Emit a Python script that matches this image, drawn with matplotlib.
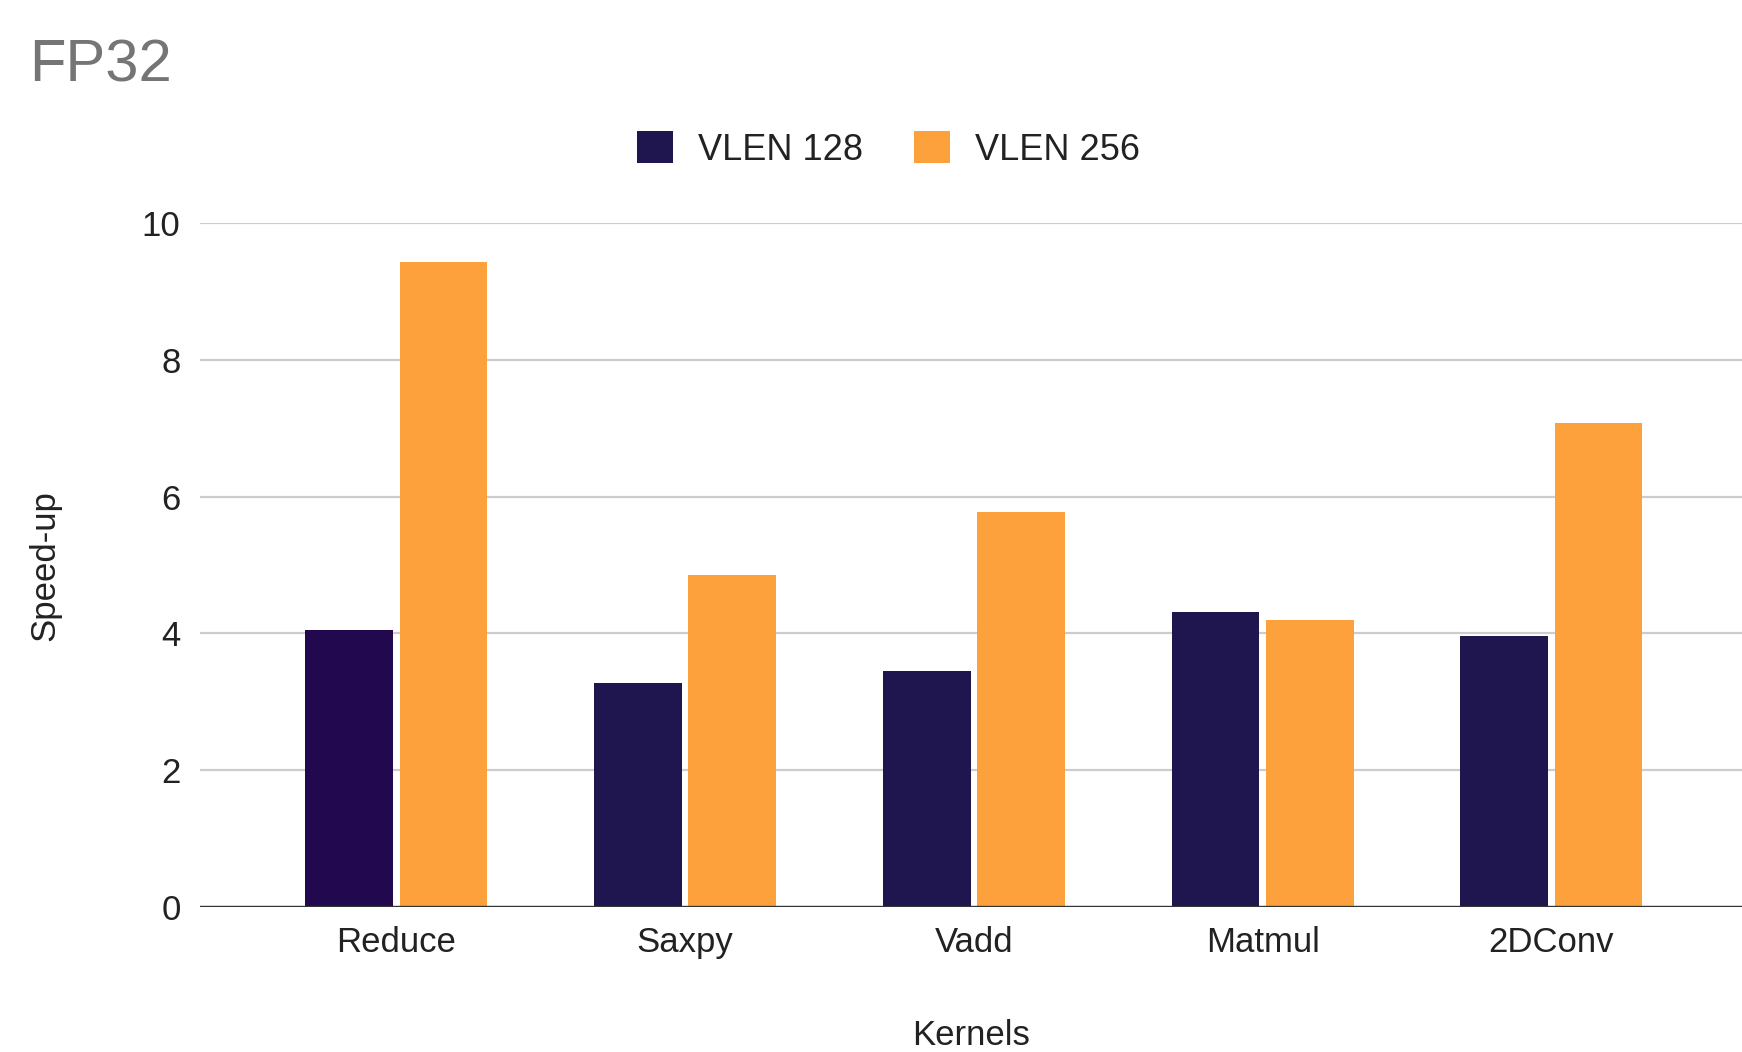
import numpy as np
import matplotlib
matplotlib.use("Agg")
from matplotlib import pyplot as plt
from matplotlib.patches import Patch

plt.rcParams['font.family'] = ['Liberation Sans', 'DejaVu Sans']

# 数据
kernels = ["Reduce", "Saxpy", "Vadd", "Matmul", "2DConv"]
vlen_128 = [4.05, 3.28, 3.45, 4.31, 3.96]
vlen_256 = [9.44, 4.85, 5.78, 4.19, 7.08]
series_names = ["VLEN 128", "VLEN 256"]
y_ticks = [0, 2, 4, 6, 8, 10]

color_128 = ["#22094f", "#1f1650", "#1f1650", "#1f1650", "#1f1650"]
color_256 = "#fca13b"

fig = plt.figure(figsize=(17.42, 10.52), dpi=100)
ax = fig.add_axes([0.1148, 0.138, 0.8852, 0.6497])

x = np.arange(len(kernels))
w = 0.304
off = 0.163
ax.bar(x - off, vlen_128, width=w, color=color_128, zorder=3)
ax.bar(x + off, vlen_256, width=w, color=color_256, zorder=3)

ax.set_xlim(-0.68, 4.66)
ax.set_ylim(0, 10)
ax.set_yticks(y_ticks)
ax.set_xticks(x)
ax.set_xticklabels(kernels)

# 网格和坐标轴
ax.grid(axis='y', color='#cccccc', linewidth=1.6, zorder=0)
ax.axhline(0, color='#333333', linewidth=2.4, zorder=4)
for s in ax.spines.values():
    s.set_visible(False)
ax.tick_params(axis='both', length=0, labelsize=25, colors='#222222')
ax.tick_params(axis='y', pad=14)
ax.tick_params(axis='x', pad=14)

ax.set_ylabel("Speed-up", fontsize=25, color='#222222', labelpad=58)
ax.set_xlabel("Kernels", fontsize=25, color='#222222', labelpad=43)

# 标题
fig.text(0.017, 0.923, "FP32", fontsize=43, color='#757575', ha='left', va='baseline')

# 图例
handles = [Patch(facecolor=color_128[1], label=series_names[0]),
           Patch(facecolor=color_256, label=series_names[1])]
fig.legend(handles=handles, loc='center', bbox_to_anchor=(0.51, 0.858), ncol=2,
           frameon=False, fontsize=26, handlelength=1.0, handleheight=1.0,
           handletextpad=0.7, columnspacing=1.4, labelcolor='#222222')

plt.savefig("out.png", dpi=100)
